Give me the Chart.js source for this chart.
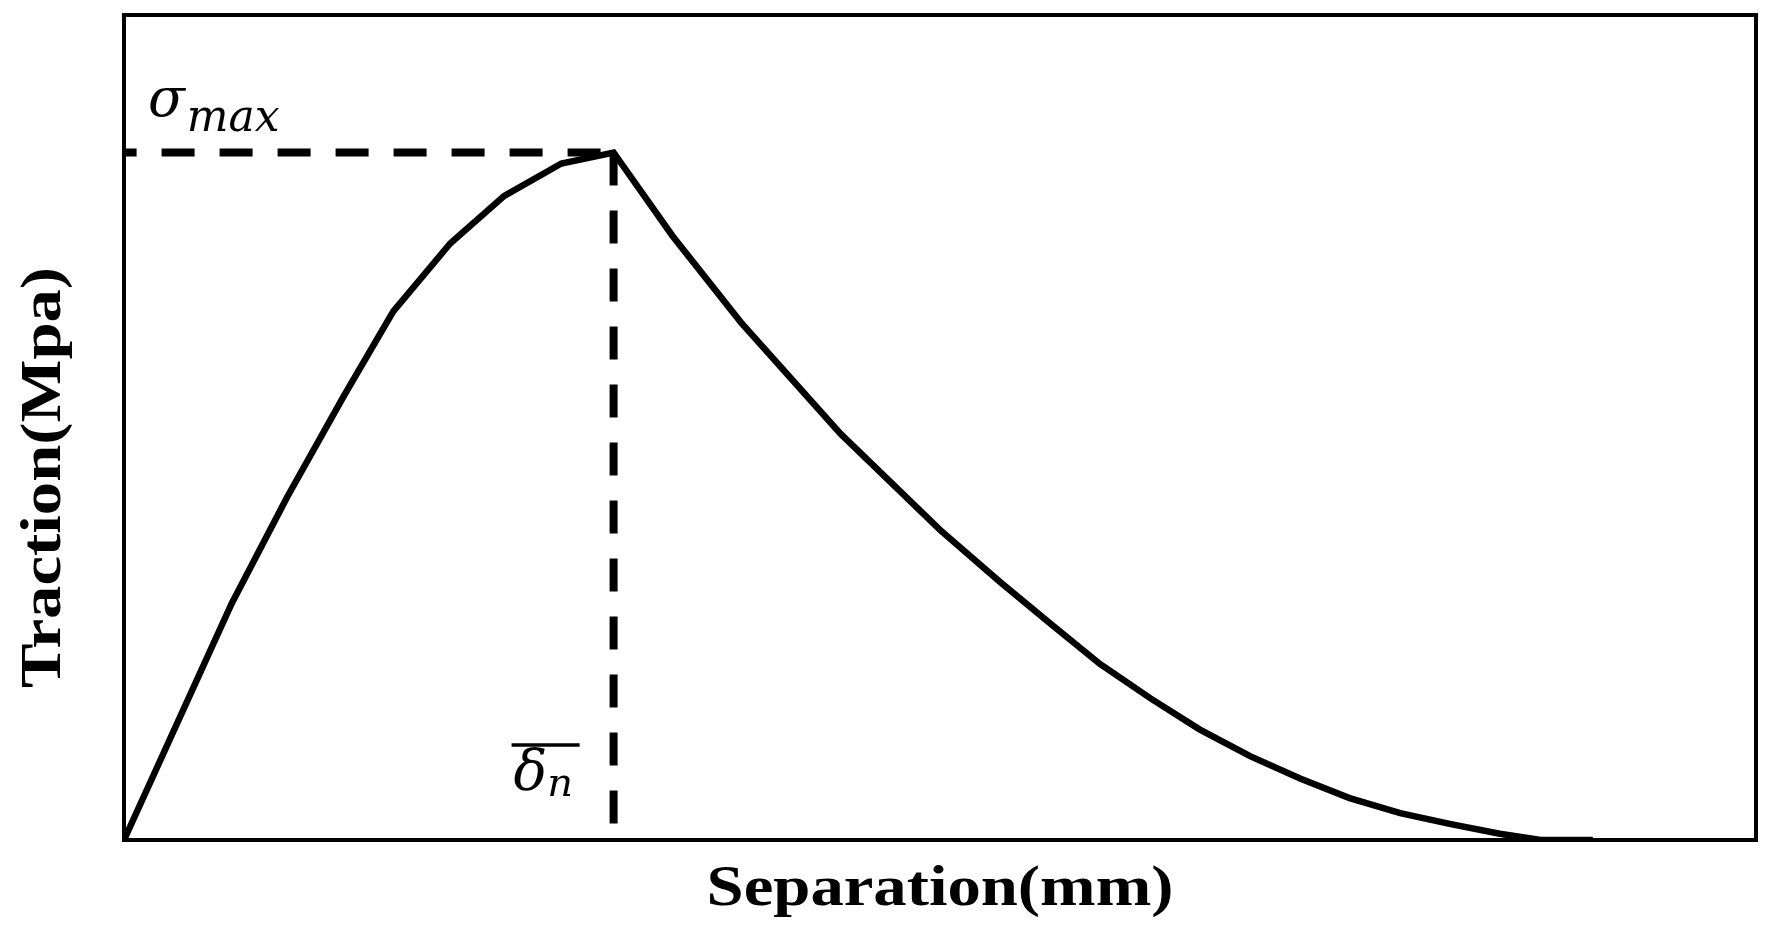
<!DOCTYPE html>
<html>
<head>
<meta charset="utf-8">
<title>Traction-Separation</title>
<script src="https://cdn.jsdelivr.net/npm/chart.js@4.4.1/dist/chart.umd.min.js"></script>
<style>
  html, body { margin: 0; padding: 0; background: #fff; }
  #tsChart { display: block; }
</style>
</head>
<body>
<canvas id="tsChart" width="1768" height="935"></canvas>
<script>
// traction-separation curve
const separation = [0, 0.66, 1.0, 1.35, 1.65, 2.0, 2.33, 2.68, 3.0,
    3.36, 3.78, 4.39, 5.0, 5.37, 5.67, 5.98, 6.29, 6.59, 6.9, 7.21, 7.51, 7.82, 8.13, 8.43, 8.68, 9.0];
const traction = [0, 0.344, 0.499, 0.647, 0.769, 0.868, 0.937, 0.984, 1.0,
    0.879, 0.753, 0.591, 0.451, 0.375, 0.316, 0.256, 0.206, 0.161, 0.122, 0.089, 0.061, 0.039, 0.023, 0.009, 0, 0];

// peak point (sigma_max at delta_n)
const peakSep = 3.0;
const peakTraction = 1.0;

const xTitle = 'Separation(mm)';
const yTitle = 'Traction(Mpa)';

const curvePoints = separation.map((s, i) => ({ x: s, y: traction[i] }));

// box, axis titles and the sigma / delta labels
const annotatePlugin = {
    id: 'annotate',
    afterDraw(chart) {
        const { ctx, chartArea: a, scales: { x, y } } = chart;
        const px = x.getPixelForValue(peakSep);
        const py = y.getPixelForValue(peakTraction);

        ctx.save();
        ctx.strokeStyle = '#000';
        ctx.fillStyle = '#000';
        ctx.lineWidth = 4;
        ctx.strokeRect(a.left, a.top, a.right - a.left, a.bottom - a.top);

        // axis titles
        ctx.font = 'bold 58px "Liberation Serif"';
        ctx.textAlign = 'center';
        ctx.textBaseline = 'alphabetic';
        ctx.save();
        ctx.translate((a.left + a.right) / 2, a.bottom + 65);
        ctx.scale(1.15, 1);
        ctx.fillText(xTitle, 0, 0);
        ctx.restore();

        ctx.save();
        ctx.translate(a.left - 64, (a.top + a.bottom) / 2 + 50);
        ctx.rotate(-Math.PI / 2);
        ctx.scale(1.15, 1);
        ctx.fillText(yTitle, 0, 0);
        ctx.restore();

        // sigma_max
        ctx.textAlign = 'left';
        ctx.font = 'italic 54px "DejaVu Serif"';
        const sx = a.left + 24;
        ctx.fillText('σ', sx, py - 37);
        const sw = ctx.measureText('σ').width;
        ctx.font = 'italic 44px "DejaVu Serif"';
        ctx.fillText('max', sx + sw + 2, py - 22);

        // delta_n with overline
        ctx.font = 'italic 56px "DejaVu Serif"';
        const dx = px - 100;
        ctx.fillText('δ', dx, a.bottom - 50);
        const dw = ctx.measureText('δ').width;
        ctx.font = 'italic 40px "DejaVu Serif"';
        ctx.fillText('n', dx + dw, a.bottom - 44);
        ctx.lineWidth = 3.5;
        ctx.beginPath();
        ctx.moveTo(px - 102, a.bottom - 95);
        ctx.lineTo(px - 34, a.bottom - 95);
        ctx.stroke();
        ctx.restore();
    }
};

const tsChart = new Chart(document.getElementById('tsChart'), {
    type: 'line',
    data: {
        datasets: [
            {
                data: curvePoints,
                borderColor: '#000',
                borderWidth: 6.5,
                pointRadius: 0,
                tension: 0,
                fill: false
            },
            {
                // horizontal dashed line from the peak to the traction axis
                data: [{ x: peakSep, y: peakTraction }, { x: 0, y: peakTraction }],
                borderColor: '#000',
                borderWidth: 8,
                borderDash: [33, 25],
                borderDashOffset: 45,
                pointRadius: 0,
                fill: false
            },
            {
                // vertical dashed line from the peak down to the separation axis
                data: [{ x: peakSep, y: peakTraction }, { x: peakSep, y: 0 }],
                borderColor: '#000',
                borderWidth: 8,
                borderDash: [33, 25],
                pointRadius: 0,
                fill: false
            }
        ]
    },
    options: {
        responsive: false,
        animation: false,
        devicePixelRatio: 1,
        layout: { padding: { left: 124, top: 15, right: 12, bottom: 95 } },
        plugins: {
            legend: { display: false },
            tooltip: { enabled: false }
        },
        scales: {
            x: { type: 'linear', min: 0, max: 10, display: false },
            y: { type: 'linear', min: 0, max: 1.2, display: false }
        }
    },
    plugins: [annotatePlugin]
});
</script>
</body>
</html>
